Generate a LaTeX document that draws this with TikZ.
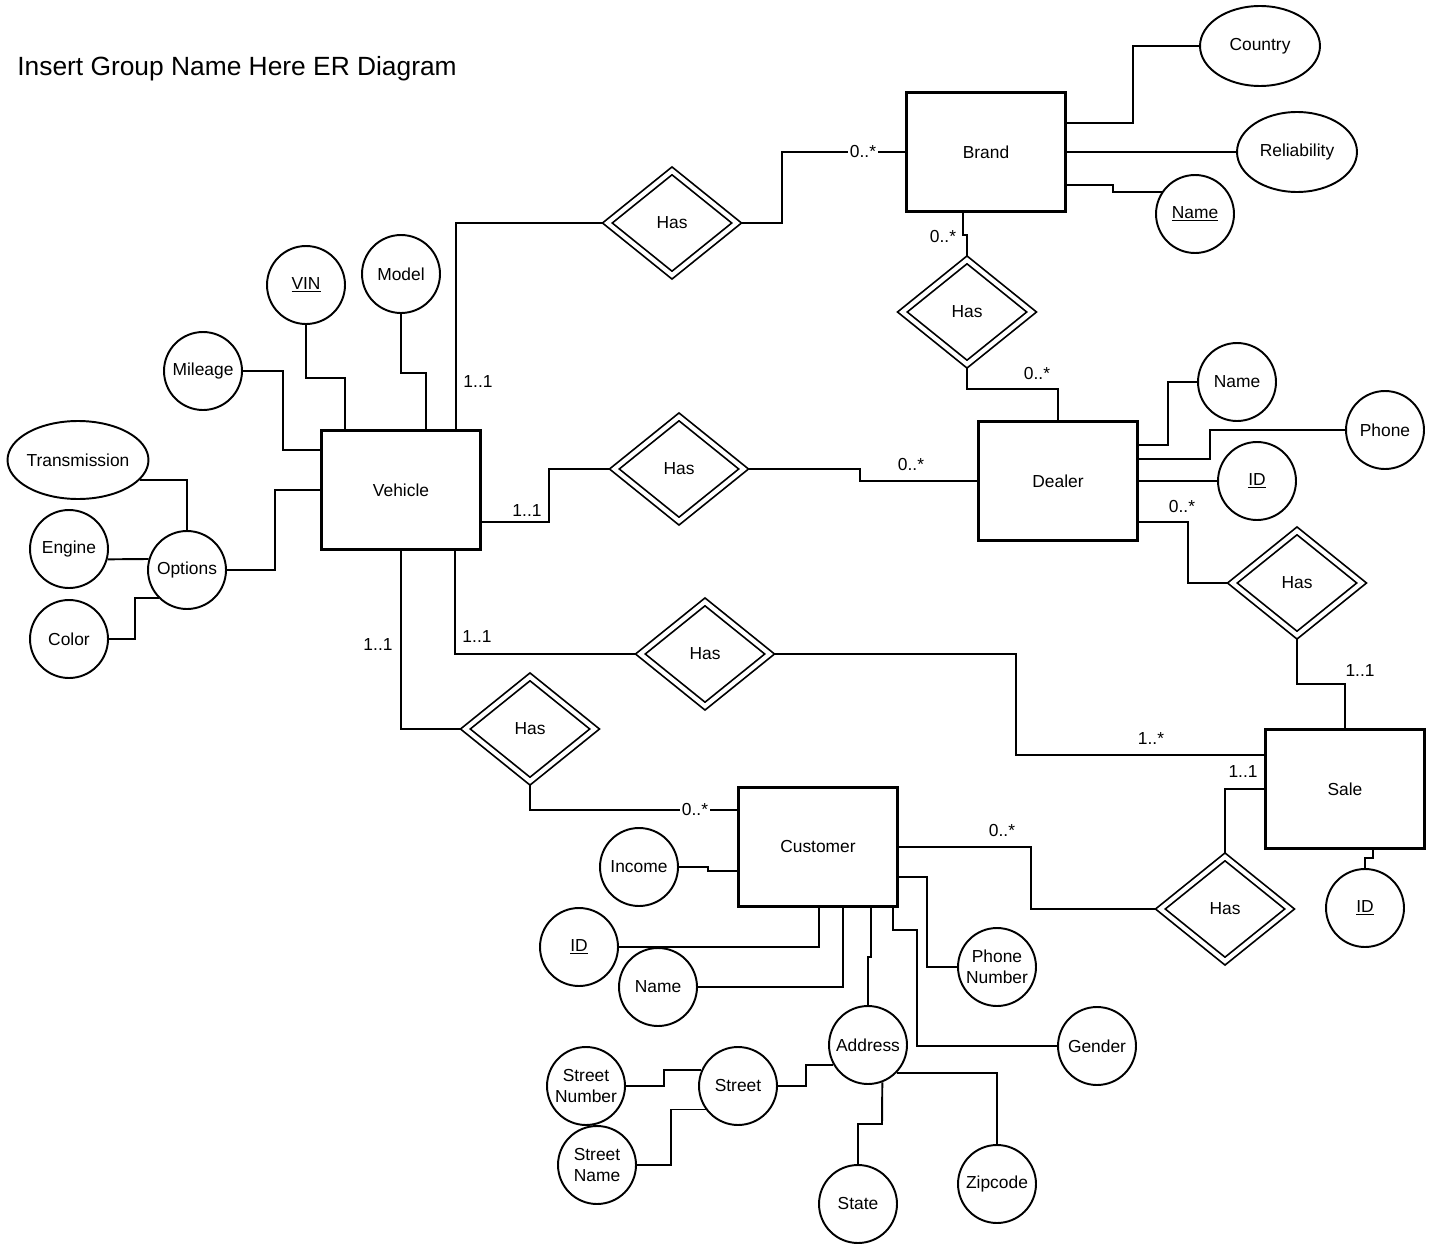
\documentclass[tikz,border=0pt]{standalone}
\usepackage{fontspec}
\setmainfont{Liberation Sans}
\usepackage{tikz}
\usetikzlibrary{shapes.geometric, positioning, backgrounds}
\tikzset{
	entity/.style   ={rectangle, draw=black, line width=1.2pt, minimum width=3.18cm, minimum height=2.38cm, align=center},
	attr/.style     ={circle, draw=black, line width=1.1pt, minimum size=1.56cm, inner sep=0pt, align=center},
	attrwide/.style ={ellipse, draw=black, line width=1.1pt, minimum width=2.4cm, minimum height=1.6cm, inner xsep=-8pt, inner ysep=0pt},
	rel/.style      ={diamond, draw=black, line width=1pt, double, double distance=2.4pt, minimum width=2.6cm, minimum height=2.1cm, inner sep=0pt},
	link/.style     ={line width=1.1pt},
	card/.style     ={inner sep=1pt},
}

\begin{document}
\begin{tikzpicture}[x=0.02cm, y=-0.02cm, font=\fontsize{9.9}{11.9}\selectfont]
	\useasboundingbox (0,0) rectangle (1434,1247);
	\node[anchor=west, inner sep=0pt, font=\fontsize{15}{18}\selectfont] (title) at (17,69) {Insert Group Name Here ER Diagram};

	% entities
	\node[entity] (Brand) at (986,152) {Brand};
	\node[entity] (Vehicle) at (401,490) {Vehicle};
	\node[entity] (Dealer) at (1058,481) {Dealer};
	\node[entity] (Sale) at (1345,789) {Sale};
	\node[entity] (Customer) at (818,847) {Customer};

	% relationships
	\node[rel] (HasVB) at (672,223) {Has};
	\node[rel] (HasBD) at (967,312) {Has};
	\node[rel] (HasVD) at (679,469) {Has};
	\node[rel] (HasDS) at (1297,583) {Has};
	\node[rel] (HasVS) at (705,654) {Has};
	\node[rel] (HasVC) at (530,729) {Has};
	\node[rel] (HasCS) at (1225,909) {Has};

	% attributes
	\node[attrwide] (Country) at (1260,46) {Country};
	\node[attrwide] (Reliability) at (1297,152) {Reliability};
	\node[attr] (BName) at (1195,214) {\underline{Name}};
	\node[attr] (VIN) at (306,285) {\underline{VIN}};
	\node[attr] (Model) at (401,274) {Model};
	\node[attr] (Mileage) at (203,371) {Mileage};
	\node[attrwide, minimum width=2.82cm, minimum height=1.56cm] (Trans) at (78,460) {Transmission};
	\node[attr] (Engine) at (69,549) {Engine};
	\node[attr] (Options) at (187,570) {Options};
	\node[attr] (Color) at (69,639) {Color};
	\node[attr] (DName) at (1237,382) {Name};
	\node[attr] (DPhone) at (1385,430) {Phone};
	\node[attr] (DID) at (1257,481) {\underline{ID}};
	\node[attr] (SID) at (1365,908) {\underline{ID}};
	\node[attr] (Income) at (639,867) {Income};
	\node[attr] (CID) at (579,947) {\underline{ID}};
	\node[attr] (CName) at (658,987) {Name};
	\node[attr] (CPhone) at (997,967) {Phone\\Number};
	\node[attr] (Gender) at (1097,1046) {Gender};
	\node[attr] (Address) at (868,1045) {Address};
	\node[attr] (Street) at (738,1086) {Street};
	\node[attr] (StNum) at (586,1086) {Street\\Number};
	\node[attr] (StName) at (597,1165) {Street\\Name};
	\node[attr] (State) at (858,1204) {State};
	\node[attr] (Zip) at (997,1184) {Zipcode};

	\begin{scope}[on background layer]
		% brand
		\draw[link] (Brand.east |- 0,123) -| (1133,46) -- (Country.west);
		\draw[link] (Brand.east) -- (Reliability.west);
		\draw[link] (Brand.east |- 0,185) -- (1113,185) |- (BName.147);
		\draw[link] (Brand.south -| 963,0) -- (963,235) -| (HasBD.north);
		\draw[link] (HasBD.south) -- (967,389) -| (Dealer.north);
		\draw[link] (HasVB.east) -- (782,223) |- (Brand.west);
		% vehicle
		\draw[link] (Vehicle.north -| 456,0) |- (HasVB.west);
		\draw[link] (Vehicle.east |- 0,522) -| (549,469) -- (HasVD.west);
		\draw[link] (HasVD.east) -| (860,481) -- (Dealer.west);
		\draw[link] (Vehicle.south -| 455,0) |- (HasVS.west);
		\draw[link] (HasVS.east) -| (1016,755) -- (Sale.west |- 0,755);
		\draw[link] (Vehicle.south) |- (HasVC.west);
		\draw[link] (HasVC.south) -- (530,810) -- (Customer.west |- 0,810);
		\draw[link] (VIN.south) -- (306,378) -| (Vehicle.north -| 345,0);
		\draw[link] (Model.south) -- (401,373) -| (Vehicle.north -| 426,0);
		\draw[link] (Mileage.east) -| (283,450) -- (Vehicle.west |- 0,450);
		\draw[link] (Options.east) -| (275,490) -- (Vehicle.west);
		\draw[link] (Trans.-18) -| (Options.north);
		\draw[link] (Engine.-15) -- (Options.164);
		\draw[link] (Color.east) -- (135,639) |- (Options.225);
		% dealer
		\draw[link] (Dealer.east |- 0,445) -| (1168,382) -- (DName.west);
		\draw[link] (Dealer.east |- 0,459) -| (1210,430) -- (DPhone.west);
		\draw[link] (Dealer.east) -- (DID.west);
		\draw[link] (Dealer.east |- 0,522) -| (1188,583) -- (HasDS.west);
		\draw[link] (HasDS.south) -- (1297,684) -| (Sale.north);
		% sale
		\draw[link] (Sale.west) -| (HasCS.north);
		\draw[link] (Sale.south -| 1373,0) -- (1373,858) -| (SID.north);
		% customer
		\draw[link] (Customer.east) -| (1031,909) -- (HasCS.west);
		\draw[link] (Income.east) -- (708,867) |- (Customer.west |- 0,871);
		\draw[link] (Customer.south -| 819,0) |- (CID.east);
		\draw[link] (Customer.south -| 843,0) |- (CName.east);
		\draw[link] (Customer.south -| 871,0) -- (871,957) -| (Address.north);
		\draw[link] (Customer.south -| 893,0) -- (893,930) -| (917,1046) -- (Gender.west);
		\draw[link] (Customer.east |- 0,877) -| (927,967) -- (CPhone.west);
		% address
		\draw[link] (Address.210) -| (806,1086) -- (Street.east);
		\draw[link] (Street.157) -| (664,1086) -- (StNum.east);
		\draw[link] (Street.216) -| (671,1165) -- (StName.east);
		\draw[link] (Address.291) -- (882,1124) -| (State.north);
		\draw[link] (Address.316) -| (Zip.north);
	\end{scope}

	% cardinalities
	\node[card, fill=white] (cVB2) at (863,152) {0..*};
	\node[card] (cBD1) at (943,237) {0..*};
	\node[card] (cBD2) at (1037,374) {0..*};
	\node[card] (cVB1) at (478,382) {1..1};
	\node[card] (cVD1) at (527,511) {1..1};
	\node[card] (cVD2) at (911,465) {0..*};
	\node[card] (cDS1) at (1182,507) {0..*};
	\node[card] (cDS2) at (1360,671) {1..1};
	\node[card] (cVS1) at (477,637) {1..1};
	\node[card] (cVC1) at (378,645) {1..1};
	\node[card] (cVS2) at (1151,739) {1..*};
	\node[card] (cCS2) at (1243,772) {1..1};
	\node[card, fill=white] (cVC2) at (695,810) {0..*};
	\node[card] (cCS1) at (1002,831) {0..*};
\end{tikzpicture}
\end{document}
